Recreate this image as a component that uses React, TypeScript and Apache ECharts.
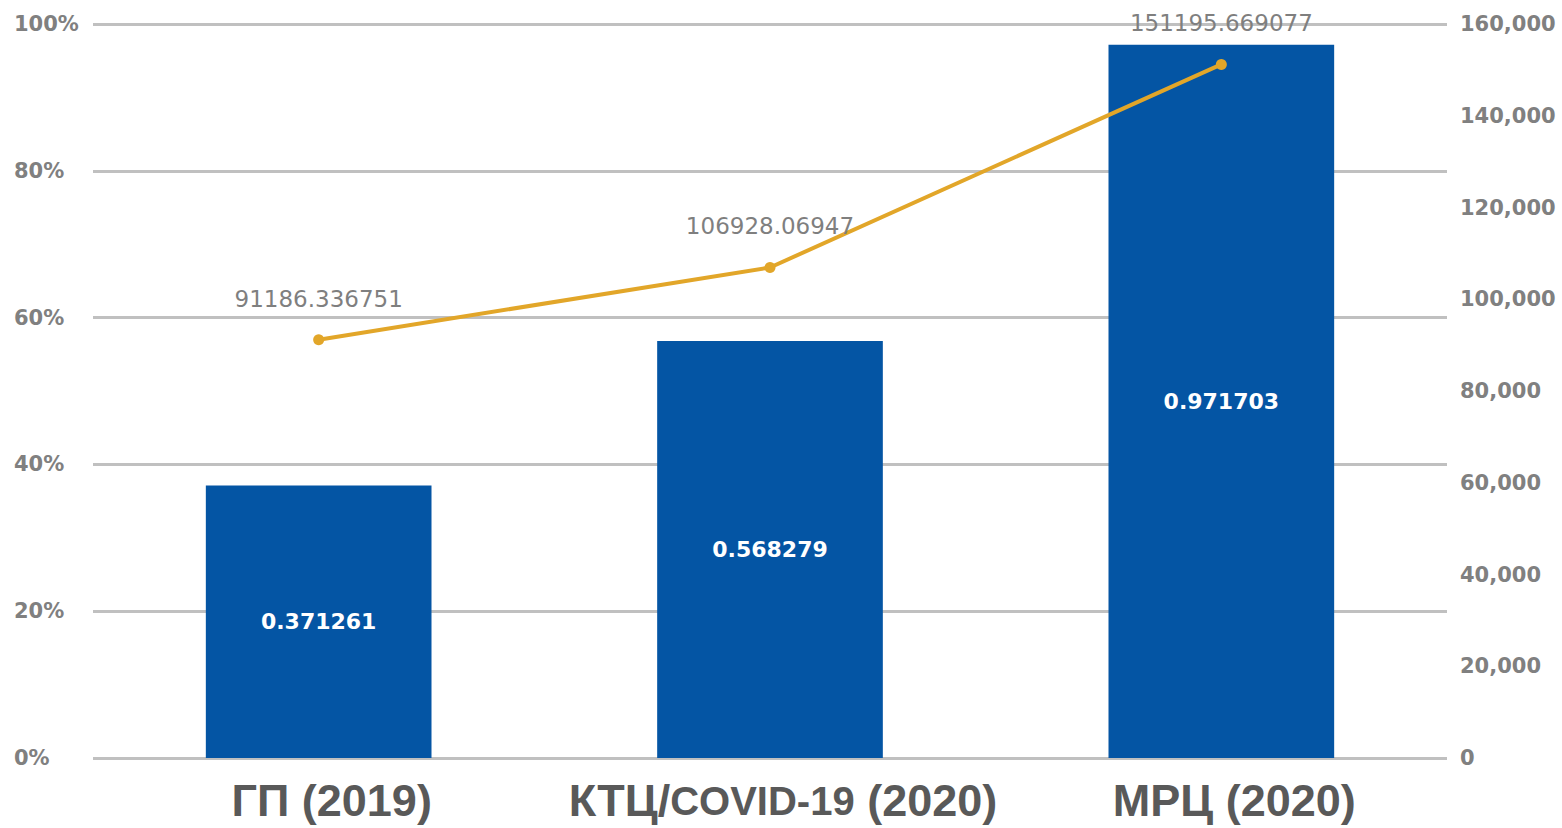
import React, { useEffect, useRef } from "react";
import * as echarts from "echarts";

const categories = ["ГП (2019)", "КТЦ/COVID-19 (2020)", "МРЦ (2020)"];
const barValues = [0.371261, 0.568279, 0.971703];
const lineValues = [91186.336751, 106928.06947, 151195.669077];
const lineLabels = ["91186.336751", "106928.06947", "151195.669077"];

export default function App() {
  const ref = useRef<HTMLDivElement>(null);
  useEffect(() => {
    const chart = echarts.init(ref.current!, null, { renderer: "svg" });
    const axisFont = "'DejaVu Sans', Verdana, sans-serif";
    const labelFont = "'Liberation Sans Narrow', sans-serif";
    chart.setOption({
      animation: false,
      backgroundColor: "#ffffff",
      grid: { left: 93, right: 115, top: 24, bottom: 70 },
      xAxis: {
        type: "category",
        data: categories,
        axisLine: { show: false },
        axisTick: { show: false },
        axisLabel: {
          margin: 20,
          interval: 0,
          padding: [0, 0, 0, 26],
          formatter: (v: string) => {
            if (v.indexOf("COVID-19") >= 0) {
              const parts = v.split("COVID-19");
              return "{b|" + parts[0] + "}{s|COVID-19}{b|" + parts[1] + "}";
            }
            return "{b|" + v + "}";
          },
          rich: {
            b: {
              fontFamily: labelFont,
              fontWeight: "bold",
              fontSize: 45,
              color: "#595959",
            },
            s: {
              fontFamily: labelFont,
              fontWeight: "bold",
              fontSize: 40,
              color: "#595959",
            },
          },
        },
      },
      yAxis: [
        {
          type: "value",
          min: 0,
          max: 1,
          interval: 0.2,
          axisLine: { show: false },
          axisTick: { show: false },
          splitLine: { lineStyle: { color: "#c0c0c0", width: 3 } },
          axisLabel: {
            align: "left",
            margin: 79,
            color: "#808080",
            fontSize: 21,
            fontWeight: "bold",
            fontFamily: axisFont,
            formatter: (v: number) => Math.round(v * 100) + "%",
          },
        },
        {
          type: "value",
          min: 0,
          max: 160000,
          interval: 20000,
          axisLine: { show: false },
          axisTick: { show: false },
          splitLine: { show: false },
          axisLabel: {
            margin: 13,
            color: "#808080",
            fontSize: 21,
            fontWeight: "bold",
            fontFamily: axisFont,
            formatter: (v: number) => v.toLocaleString("en-US"),
          },
        },
      ],
      series: [
        {
          type: "bar",
          data: barValues,
          barWidth: "50%",
          itemStyle: { color: "#0455A4" },
          label: {
            show: true,
            position: "inside",
            color: "#ffffff",
            fontWeight: "bold",
            fontSize: 22,
            fontFamily: axisFont,
            formatter: (p: any) => String(p.value),
          },
          z: 2,
        },
        {
          type: "line",
          yAxisIndex: 1,
          data: lineValues,
          symbol: "circle",
          symbolSize: 11,
          lineStyle: { color: "#E2A629", width: 4 },
          itemStyle: { color: "#E2A629" },
          label: {
            show: true,
            position: "top",
            distance: 24,
            color: "#7f7f7f",
            fontSize: 23,
            fontFamily: axisFont,
            formatter: (p: any) => lineLabels[p.dataIndex],
          },
          z: 3,
        },
      ],
    });
    return () => chart.dispose();
  }, []);
  return (
    <div
      ref={ref}
      style={{ position: "fixed", left: 0, top: 0, width: 1562, height: 828 }}
    />
  );
}
